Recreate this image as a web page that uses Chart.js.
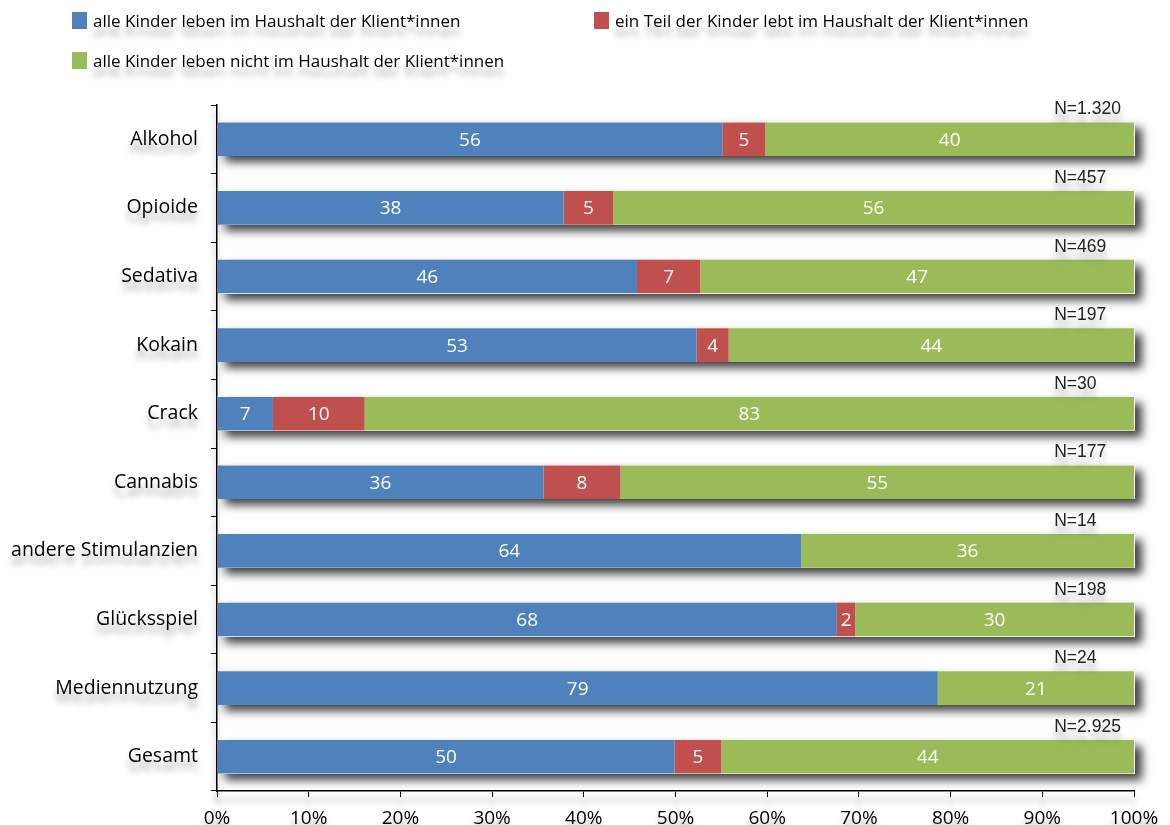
<!DOCTYPE html>
<html>
<head>
<meta charset="utf-8">
<script src="https://cdn.jsdelivr.net/npm/chart.js@4.4.1/dist/chart.umd.min.js"></script>
<style>
  html, body { margin: 0; padding: 0; background: #fff; }
  #wrap { position: relative; width: 1170px; height: 825px; }
  #chart { position: absolute; left: 0; top: 0; }
  .leg { position: absolute; font: 17px "Open Sans", sans-serif; color: #000; white-space: nowrap;
         text-shadow: 0 10px 6px rgba(0,0,0,0.35); line-height: 20px; }
  .leg span.box { position: absolute; left: -21px; top: 1px; width: 15px; height: 17px; }
  .barShadow { position: absolute; pointer-events: none; box-shadow: 7px 6px 9px rgba(0,0,0,0.75); }
</style>
</head>
<body>
<div id="wrap">
  <canvas id="chart" width="1170" height="825"></canvas>
</div>
<script>
const categories = ["Alkohol", "Opioide", "Sedativa", "Kokain", "Crack", "Cannabis",
  "andere Stimulanzien", "Glücksspiel", "Mediennutzung", "Gesamt"];
const sampleSizes = ["N=1.320", "N=457", "N=469", "N=197", "N=30", "N=177",
  "N=14", "N=198", "N=24", "N=2.925"];

const seriesNames = [
  "alle Kinder leben im Haushalt der Klient*innen",
  "ein Teil der Kinder lebt im Haushalt der Klient*innen",
  "alle Kinder leben nicht im Haushalt der Klient*innen"
];
const seriesColors = ["#4f81bd", "#c0504d", "#9bbb59"];

// bar lengths (percent)
const allInHousehold  = [55.1, 37.8, 45.8, 52.3, 6.1, 35.6, 63.7, 67.6, 78.6, 49.9];
const partInHousehold = [4.7, 5.4, 6.9, 3.5, 10.0, 8.4, 0, 2.0, 0, 5.1];
const noneInHousehold = [40.2, 56.8, 47.3, 44.2, 83.9, 56.0, 36.3, 30.4, 21.4, 45.0];

// numbers printed on the bars
const allLabels  = ["56", "38", "46", "53", "7", "36", "64", "68", "79", "50"];
const partLabels = ["5", "5", "7", "4", "10", "8", "", "2", "", "5"];
const noneLabels = ["40", "56", "47", "44", "83", "55", "36", "30", "21", "44"];

const xTicks = [0, 10, 20, 30, 40, 50, 60, 70, 80, 90, 100];

// legend (html)
const wrap = document.getElementById("wrap");
const legendPos = [[93, 11], [615, 11], [93, 51]];
seriesNames.forEach((name, i) => {
  const d = document.createElement("div");
  d.className = "leg";
  d.style.left = legendPos[i][0] + "px";
  d.style.top = legendPos[i][1] + "px";
  d.innerHTML = '<span class="box" style="background:' + seriesColors[i] + '"></span>' + name;
  wrap.appendChild(d);
});

const labelSets = [allLabels, partLabels, noneLabels];

// text shadow for the axis labels
const textShadow = {
  id: "textShadow",
  beforeDraw(chart) {
    const ctx = chart.ctx;
    ctx.shadowColor = "rgba(0,0,0,0.35)";
    ctx.shadowBlur = 6;
    ctx.shadowOffsetY = 9;
  },
  beforeDatasetsDraw(chart) {
    const ctx = chart.ctx;
    ctx.shadowColor = "rgba(0,0,0,0)";
    ctx.shadowBlur = 0;
    ctx.shadowOffsetY = 0;
  }
};

// drop shadow round every whole bar: transparent boxes laid over the bars whose
// box-shadow only shows outside them; built once the bars exist
let shadowsBuilt = false;
const barShadow = {
  id: "barShadow",
  afterRender(chart) {
    if (shadowsBuilt) return;
    const metas = chart.data.datasets.map((d, i) => chart.getDatasetMeta(i));
    if (!metas[0].data.length) return;
    shadowsBuilt = true;
    metas[0].data.forEach((bar, i) => {
      let start = bar.base, end = bar.x;
      metas.forEach(m => { end = Math.max(end, m.data[i].x); });
      end = Math.min(end, chart.chartArea.right);
      const s = document.createElement("div");
      s.className = "barShadow";
      s.style.left = Math.round(start) + "px";
      s.style.top = Math.round(bar.y - bar.height / 2) + "px";
      s.style.width = Math.round(end - start) + "px";
      s.style.height = Math.round(bar.height) + "px";
      wrap.appendChild(s);
    });
  }
};

const barLabels = {
  id: "barLabels",
  afterDatasetsDraw(chart) {
    const ctx = chart.ctx;
    ctx.save();
    ctx.font = '19px "Open Sans", sans-serif';
    ctx.fillStyle = "#fff";
    ctx.textAlign = "center";
    ctx.textBaseline = "middle";
    chart.data.datasets.forEach((ds, di) => {
      const meta = chart.getDatasetMeta(di);
      meta.data.forEach((bar, i) => {
        const txt = labelSets[di][i];
        if (!txt) return;
        const cx = (bar.x + bar.base) / 2;
        ctx.fillText(txt, cx, bar.y + 1);
      });
    });
    // N labels above each bar
    ctx.font = '17.5px "Liberation Sans", Arial, sans-serif';
    ctx.fillStyle = "#222";
    ctx.textAlign = "left";
    ctx.textBaseline = "alphabetic";
    ctx.shadowColor = "rgba(0,0,0,0.3)";
    ctx.shadowBlur = 6;
    ctx.shadowOffsetY = 8;
    const meta0 = chart.getDatasetMeta(0);
    meta0.data.forEach((bar, i) => {
      const top = bar.y - bar.height / 2;
      ctx.fillText(sampleSizes[i], chart.scales.x.getPixelForValue(91.3), top - 8);
    });
    ctx.restore();
  }
};

new Chart(document.getElementById("chart"), {
  type: "bar",
  data: {
    labels: categories,
    datasets: [
      { label: seriesNames[0], data: allInHousehold, backgroundColor: seriesColors[0] },
      { label: seriesNames[1], data: partInHousehold, backgroundColor: seriesColors[1] },
      { label: seriesNames[2], data: noneInHousehold, backgroundColor: seriesColors[2] }
    ]
  },
  options: {
    indexAxis: "y",
    responsive: false,
    animation: false,
    layout: { padding: { top: 105, right: 36, left: 0, bottom: 0 } },
    datasets: { bar: { barPercentage: 0.49, categoryPercentage: 1.0, borderWidth: 0 } },
    plugins: { legend: { display: false }, tooltip: { enabled: false } },
    scales: {
      x: {
        stacked: true,
        min: 0,
        max: 100,
        afterBuildTicks(scale) { scale.ticks = xTicks.map(v => ({ value: v })); },
        afterFit(scale) { scale.height = 34; },
        grid: { drawOnChartArea: false, tickLength: 6, color: "#000", lineWidth: 1 },
        border: { color: "#000", width: 1.5 },
        ticks: {
          color: "#000",
          padding: 10,
          font: { family: "Open Sans", size: 19 },
          maxRotation: 0,
          callback: v => v + "%"
        }
      },
      y: {
        stacked: true,
        afterFit(scale) { scale.width = 217; },
        grid: { drawOnChartArea: false, tickLength: 6, color: "#000", lineWidth: 1, offset: true },
        border: { color: "#000", width: 1.5 },
        ticks: {
          color: "#000",
          padding: 13,
          font: { family: "Open Sans", size: 19.5 }
        }
      }
    }
  },
  plugins: [textShadow, barShadow, barLabels]
});
</script>
</body>
</html>
